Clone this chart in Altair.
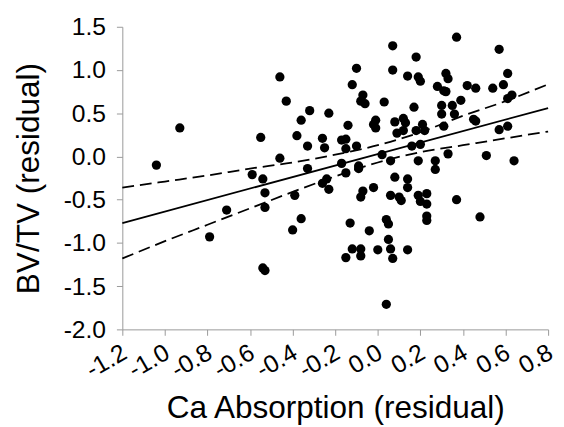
import altair as alt
import pandas as pd

# Scatter points (Ca Absorption residual, BV/TV residual)
ca_x = [-1.04, -0.93, -0.79, -0.71, -0.59, -0.55, -0.54, -0.53, -0.53, -0.54,
        -0.53, -0.46, -0.46, -0.43, -0.40, -0.39, -0.38, -0.36, -0.36, -0.33,
        -0.33, -0.32, -0.26, -0.25, -0.26, -0.24, -0.23, -0.23, -0.17, -0.17,
        -0.15, -0.15, -0.15, -0.14, -0.15, -0.13, -0.12, -0.12, -0.10, -0.10,
        -0.09, -0.09, -0.08, -0.08, -0.07, -0.08, -0.07, -0.08, -0.06, -0.04,
        -0.02, -0.02, -0.01, -0.01, 0.00, 0.02, 0.03, 0.04, 0.04, 0.05,
        0.05, 0.06, 0.06, 0.06, 0.07, 0.07, 0.07, 0.08, 0.08, 0.09,
        0.10, 0.11, 0.12, 0.12, 0.13, 0.14, 0.14, 0.14, 0.14, 0.16,
        0.17, 0.18, 0.18, 0.19, 0.19, 0.20, 0.19, 0.20, 0.20, 0.21,
        0.22, 0.23, 0.23, 0.23, 0.23, 0.27, 0.27, 0.28, 0.30, 0.30,
        0.31, 0.31, 0.32, 0.32, 0.33, 0.33, 0.35, 0.36, 0.37, 0.37,
        0.39, 0.42, 0.45, 0.46, 0.48, 0.51, 0.54, 0.57, 0.57, 0.59,
        0.61, 0.61, 0.61, 0.63, 0.64, 0.46]
bv_y = [-0.10, 0.33, -0.93, -0.62, -0.21, 0.22, -0.26, -0.42, -0.59, -1.29,
        -1.32, -0.02, 0.92, 0.64, -0.85, -0.45, 0.24, -0.72, 0.42, -0.14,
        0.12, 0.53, 0.21, 0.10, -0.31, -0.26, -0.38, 0.50, 0.19, -0.08,
        0.20, -0.19, 0.09, 0.36, -1.17, -0.77, -1.07, 0.83, 1.02, 0.12,
        -0.11, -0.14, -1.07, -1.15, -0.40, -0.47, 0.71, 0.64, 0.61, -0.86,
        -0.36, 0.37, 0.42, 0.33, -1.08, 0.02, 0.63, -1.71, -0.73, -0.78,
        -0.96, -0.45, -1.07, -0.05, -1.18, 1.28, 1.00, -0.24, 0.40, 0.27,
        -0.47, -0.51, 0.44, 0.30, 0.39, -0.26, -0.36, 0.93, -1.08, 0.12,
        0.57, 1.15, 0.30, -0.05, 0.92, 0.87, -0.45, -0.52, 0.14, 0.37,
        0.30, -0.43, -0.55, -0.69, -0.74, -0.05, -0.15, 0.81, 0.59, 0.49,
        0.35, 0.76, 0.96, 0.75, 0.90, 0.03, 0.59, 0.49, 1.38, -0.50,
        0.65, 0.82, 0.43, 0.79, -0.70, 0.01, 0.79, 1.24, 0.31, 0.83,
        0.96, 0.35, 0.67, 0.71, -0.05, 0.41]

# Regression line and confidence band
fit_x = [-1.2, 0.8]
fit_y = [-0.77, 0.56]
band_x = [-1.2, -1.0, -0.8, -0.6, -0.4, -0.2, 0.0, 0.2, 0.4, 0.6, 0.8]
band_upper = [-0.36, -0.29, -0.22, -0.14, -0.07, 0.02, 0.13, 0.28, 0.47, 0.64, 0.835]
band_lower = [-1.18, -0.98, -0.79, -0.60, -0.41, -0.23, -0.07, 0.05, 0.13, 0.21, 0.288]

x_ticks = [-1.2, -1.0, -0.8, -0.6, -0.4, -0.2, 0.0, 0.2, 0.4, 0.6, 0.8]
y_ticks = [-2.0, -1.5, -1.0, -0.5, 0.0, 0.5, 1.0, 1.5]

pts = pd.DataFrame({"x": ca_x, "y": bv_y})
fit = pd.DataFrame({"x": fit_x, "y": fit_y})
band = pd.DataFrame({
    "x": band_x * 2,
    "y": band_upper + band_lower,
    "side": ["upper"] * len(band_x) + ["lower"] * len(band_x),
})

xscale = alt.Scale(domain=[-1.2, 0.8], nice=False, zero=False)
yscale = alt.Scale(domain=[-2.0, 1.5], nice=False, zero=False)

minus_fix = "replace(format(datum.value, '.1f'), '\u2212', '-')"

xaxis = alt.Axis(values=x_ticks, labelExpr=minus_fix, title="Ca Absorption (residual)",
                 labelAngle=-30, labelAlign="right", labelBaseline="middle",
                 labelPadding=15, labelOffset=2, labelOverlap=False, labelBound=False,
                 titleBaseline="alphabetic", titleY=89)
yaxis = alt.Axis(values=y_ticks, labelExpr=minus_fix, title="BV/TV (residual)",
                 labelPadding=11, titleX=-95, titleBaseline="middle", labelOverlap=False)

points = alt.Chart(pts).mark_circle(size=88, color="black", opacity=1).encode(
    x=alt.X("x:Q", scale=xscale, axis=xaxis),
    y=alt.Y("y:Q", scale=yscale, axis=yaxis),
)

line = alt.Chart(fit).mark_line(color="black", strokeWidth=1.8).encode(
    x=alt.X("x:Q", scale=xscale),
    y=alt.Y("y:Q", scale=yscale),
)

bands = alt.Chart(band).mark_line(color="black", strokeWidth=1.8, strokeDash=[12, 6],
                                  interpolate="monotone").encode(
    x=alt.X("x:Q", scale=xscale),
    y=alt.Y("y:Q", scale=yscale),
    detail="side:N",
)

chart = alt.layer(points, line, bands).properties(
    width=432, height=307,
    autosize=alt.AutoSizeParams(type="none"),
    padding={"left": 116, "top": 16, "right": 8, "bottom": 96},
).configure_view(stroke=None).configure_axis(
    grid=False,
    domainColor="#999999",
    tickColor="#999999",
    tickSize=6,
    labelFont="Liberation Sans",
    labelFontSize=25,
    labelColor="black",
    titleFont="Liberation Sans",
    titleFontSize=32,
    titleFontWeight="normal",
    titleColor="black",
)

chart.save("out.html", embed_options={"renderer": "svg", "actions": False})
